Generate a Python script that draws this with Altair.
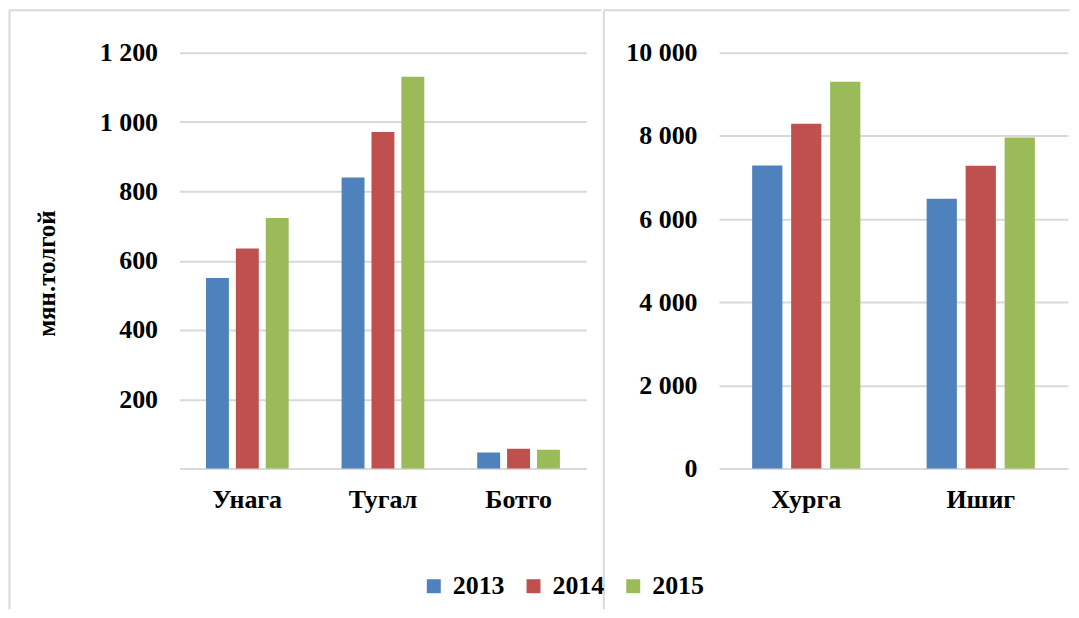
import altair as alt
import pandas as pd

years = ["2013", "2014", "2015"]
colors = ["#4F81BD", "#C0504D", "#9BBB59"]

left_cats = ["Унага", "Тугал", "Ботго"]
left_2013 = [550, 840, 46]
left_2014 = [635, 971, 57]
left_2015 = [723, 1131, 54]

right_cats = ["Хурга", "Ишиг"]
right_2013 = [7290, 6490]
right_2014 = [8290, 7280]
right_2015 = [9300, 7960]

left_ticks = [0, 200, 400, 600, 800, 1000, 1200]
right_ticks = [0, 2000, 4000, 6000, 8000, 10000]


def make_df(cats, a, b, c):
    rows = []
    for i, cat in enumerate(cats):
        for y, vals in zip(years, [a, b, c]):
            rows.append({"cat": cat, "year": y, "value": vals[i]})
    return pd.DataFrame(rows)


df_left = make_df(left_cats, left_2013, left_2014, left_2015)
df_right = make_df(right_cats, right_2013, right_2014, right_2015)

FONT = "Liberation Serif"
GRID = "#D9D9D9"
H = 417

color_enc = alt.Color(
    "year:N",
    scale=alt.Scale(domain=years, range=colors),
    legend=alt.Legend(
        title=None,
        orient="none",
        direction="horizontal",
        legendX=242,
        legendY=522,
        symbolType="square",
        symbolSize=196,
        symbolStrokeWidth=0,
        labelFontSize=26,
        labelFont=FONT,
        labelFontWeight="bold",
        labelColor="black",
        columnPadding=16,
        labelOffset=6,
    ),
)

fmt = "replace(format(datum.value, ','), ',', ' ')"

bars_left = alt.Chart(df_left).mark_bar().encode(
    x=alt.X(
        "cat:N",
        sort=left_cats,
        scale=alt.Scale(paddingInner=0.39, paddingOuter=0.195),
        axis=alt.Axis(title=None, labelAngle=0, labelPadding=18, domain=False,
                      ticks=False, grid=False),
    ),
    xOffset=alt.XOffset("year:N", sort=years,
                        scale=alt.Scale(paddingInner=0.233, paddingOuter=0)),
    y=alt.Y(
        "value:Q",
        scale=alt.Scale(domain=[0, 1200], nice=False),
        axis=alt.Axis(
            values=left_ticks,
            labelExpr="datum.value == 0 ? '' : " + fmt,
            title="мян.толгой",
            titleX=-133,
            titleY=221,
            titleAngle=270,
            titleAlign="center",
            titleBaseline="middle",
            titleFontSize=25,
            labelPadding=22,
            domain=False,
            ticks=False,
            grid=True,
        ),
    ),
    color=color_enc,
)

one = pd.DataFrame({"a": [0]})
deco_left = alt.Chart(one).mark_rule(color=GRID, strokeWidth=2).encode(
    x=alt.value(-170.5), y=alt.value(-42.5), y2=alt.value(558)
) + alt.Chart(one).mark_rule(color=GRID, strokeWidth=2).encode(
    x=alt.value(-170.5), x2=alt.value(423), y=alt.value(-42.5)
)

left = alt.layer(deco_left, bars_left).properties(width=408, height=H)

bars_right = alt.Chart(df_right).mark_bar().encode(
    x=alt.X(
        "cat:N",
        sort=right_cats,
        scale=alt.Scale(paddingInner=0.38, paddingOuter=0.19),
        axis=alt.Axis(title=None, labelAngle=0, labelPadding=18, domain=False,
                      ticks=False, grid=False),
    ),
    xOffset=alt.XOffset("year:N", sort=years,
                        scale=alt.Scale(paddingInner=0.225, paddingOuter=0)),
    y=alt.Y(
        "value:Q",
        scale=alt.Scale(domain=[0, 10000], nice=False),
        axis=alt.Axis(values=right_ticks, labelExpr=fmt, title=None,
                      labelPadding=22, domain=False, ticks=False, grid=True),
    ),
    color=color_enc,
)

deco_right = alt.Chart(one).mark_rule(color=GRID, strokeWidth=2).encode(
    x=alt.value(-115.5), y=alt.value(-42.5), y2=alt.value(558)
) + alt.Chart(one).mark_rule(color=GRID, strokeWidth=2).encode(
    x=alt.value(-115.5), x2=alt.value(352), y=alt.value(-42.5)
)

right = alt.layer(deco_right, bars_right).properties(width=350, height=H)

chart = (
    alt.hconcat(left, right, spacing=0)
    .resolve_scale(y="independent", x="independent", xOffset="independent")
    .properties(padding=0, background="white")
    .configure_view(stroke=None)
    .configure_axis(
        labelFont=FONT,
        labelFontWeight="bold",
        labelFontSize=26,
        labelColor="black",
        titleFont=FONT,
        titleFontWeight="bold",
        titleColor="black",
        gridColor=GRID,
        gridWidth=2,
    )
)

chart.save("out.html", embed_options={"renderer": "svg", "actions": False})
